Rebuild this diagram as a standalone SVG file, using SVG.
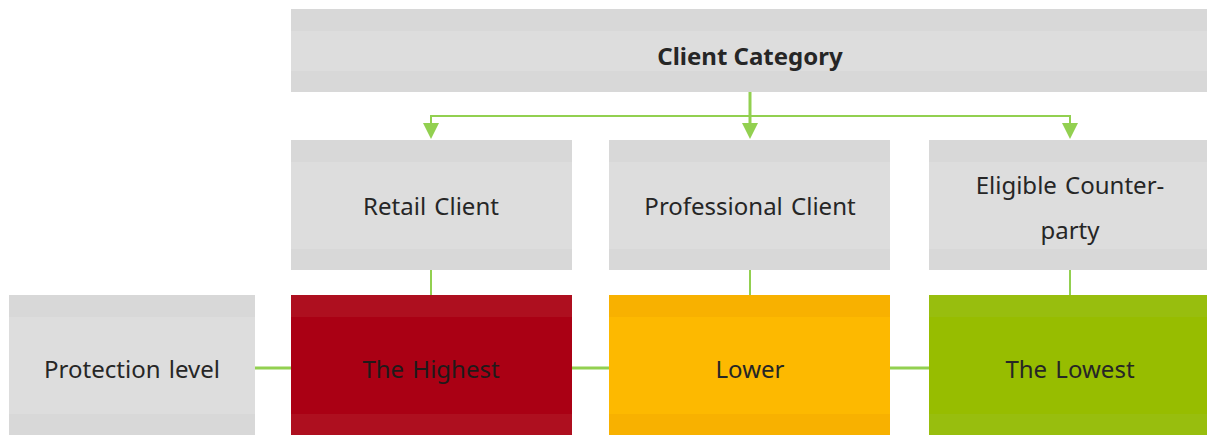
<svg xmlns="http://www.w3.org/2000/svg" width="1207" height="435" viewBox="0 0 1207 435">
<style>
.t{font-family:"Noto Sans","Open Sans","Liberation Sans",sans-serif;font-size:24px;fill:#262626;text-anchor:middle;word-spacing:2px}
.b{font-weight:bold;word-spacing:0}
.gb{fill:#d8d8d8}.gm{fill:#dddddd}
.rb{fill:#ae0f1f}.rm{fill:#aa0014}
.ob{fill:#f8b100}.om{fill:#fdb900}
.vb{fill:#98be0e}.vm{fill:#97bd00}
.c{stroke:#92d050;fill:none}
.ah{fill:#92d050}
</style>
<g id="connectors">
<line class="c" x1="750" y1="92" x2="750" y2="124" stroke-width="3"/>
<polyline class="c" points="431,124 431,116 1070,116 1070,124" stroke-width="2"/>
<path class="ah" d="M423,123 L439,123 L431,139 Z"/>
<path class="ah" d="M742,123 L758,123 L750,139 Z"/>
<path class="ah" d="M1062,123 L1078,123 L1070,139 Z"/>
<line class="c" x1="431" y1="270" x2="431" y2="295" stroke-width="2"/>
<line class="c" x1="750" y1="270" x2="750" y2="295" stroke-width="2"/>
<line class="c" x1="1070" y1="270" x2="1070" y2="295" stroke-width="2"/>
<line class="c" x1="255" y1="368" x2="291" y2="368" stroke-width="3"/>
<line class="c" x1="572" y1="368" x2="609" y2="368" stroke-width="3"/>
<line class="c" x1="890" y1="368" x2="929" y2="368" stroke-width="3"/>
</g>
<g id="client-category">
<rect class="gb" x="291" y="9" width="916" height="83"/>
<rect class="gm" x="291" y="31" width="916" height="40"/>
<text class="t b" x="750" y="65">Client Category</text>
</g>
<g id="retail-client">
<rect class="gb" x="291" y="140" width="281" height="130"/>
<rect class="gm" x="291" y="162" width="281" height="87"/>
<text class="t" x="431" y="215">Retail Client</text>
</g>
<g id="professional-client">
<rect class="gb" x="609" y="140" width="281" height="130"/>
<rect class="gm" x="609" y="162" width="281" height="87"/>
<text class="t" x="750" y="215">Professional Client</text>
</g>
<g id="eligible-counterparty">
<rect class="gb" x="929" y="140" width="278" height="130"/>
<rect class="gm" x="929" y="162" width="278" height="87"/>
<text class="t" x="1070" y="194">Eligible Counter-</text>
<text class="t" x="1070" y="239">party</text>
</g>
<g id="protection-level">
<rect class="gb" x="9" y="295" width="246" height="140"/>
<rect class="gm" x="9" y="317" width="246" height="97"/>
<text class="t" x="132" y="378">Protection level</text>
</g>
<g id="the-highest">
<rect class="rb" x="291" y="295" width="281" height="140"/>
<rect class="rm" x="291" y="317" width="281" height="97"/>
<text class="t" x="431" y="378" style="fill:#1f1a1a">The Highest</text>
</g>
<g id="lower">
<rect class="ob" x="609" y="295" width="281" height="140"/>
<rect class="om" x="609" y="317" width="281" height="97"/>
<text class="t" x="750" y="378">Lower</text>
</g>
<g id="the-lowest">
<rect class="vb" x="929" y="295" width="278" height="140"/>
<rect class="vm" x="929" y="317" width="278" height="97"/>
<text class="t" x="1070" y="378">The Lowest</text>
</g>
</svg>
